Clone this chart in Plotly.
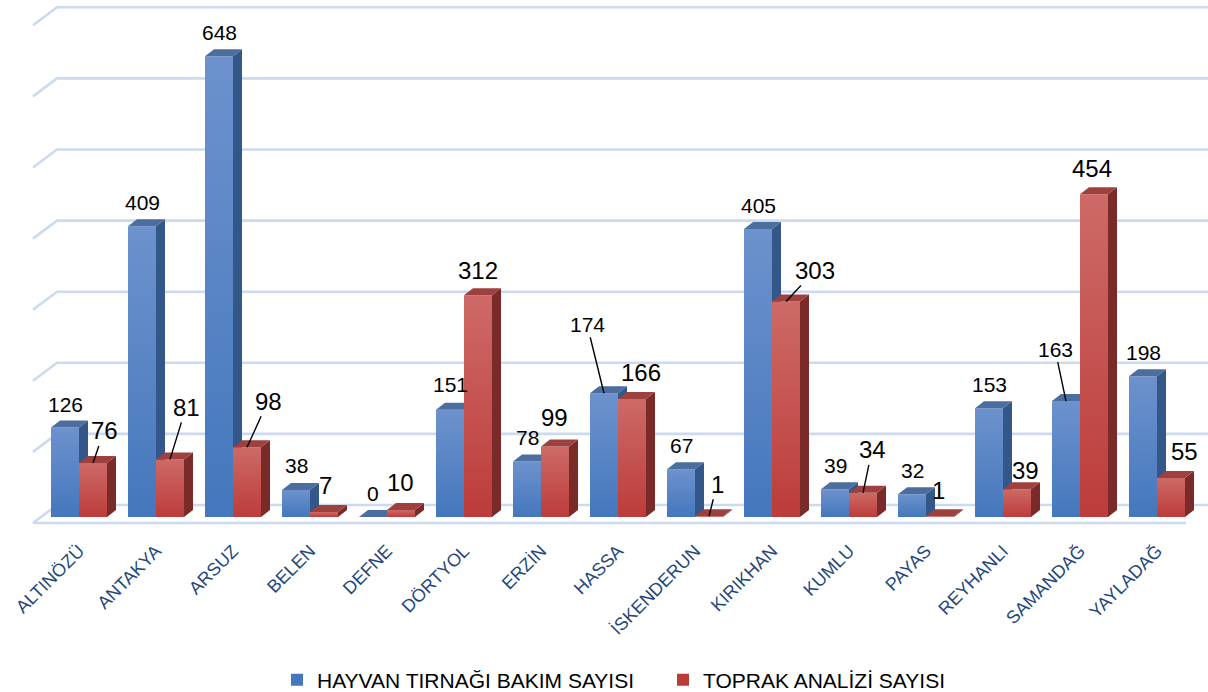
import plotly.graph_objects as go

# --- data -------------------------------------------------------------
districts = ["ALTINÖZÜ", "ANTAKYA", "ARSUZ", "BELEN", "DEFNE", "DÖRTYOL", "ERZİN",
             "HASSA", "İSKENDERUN", "KIRIKHAN", "KUMLU", "PAYAS", "REYHANLI",
             "SAMANDAĞ", "YAYLADAĞ"]
hoof_care = [126, 409, 648, 38, 0, 151, 78, 174, 67, 405, 39, 32, 153, 163, 198]
soil_analysis = [76, 81, 98, 7, 10, 312, 99, 166, 1, 303, 34, 1, 39, 454, 55]
grid_values = [0, 100, 200, 300, 400, 500, 600, 700]
series_names = ["HAYVAN TIRNAĞI BAKIM SAYISI", "TOPRAK ANALİZİ SAYISI"]

# --- geometry (pixel based, converted to axis units) -----------------
W, H = 1208, 692
PX_CAT = 77.0          # pixels per category
PX_VAL = 0.711         # pixels per value unit
X0_PX = 79.0           # pixel position of the first category centre
BASE_PX = 517.0        # pixel row of value 0 on the bar fronts
MARGIN_B = 166

def ux(px):
    return px / PX_CAT

def uy(px):
    return px / PX_VAL

BAR_W = ux(28)
DX, DY = ux(9), uy(7)                 # bar depth projection
WALL_LEFT = ux(33 - X0_PX)            # front-left corner of the side wall
WALL_BACK = ux(57 - X0_PX)            # back-left corner
WALL_FRONT_DY = uy(-6)                # wall front edge relative to bar base
WALL_BACK_DY = uy(12)                 # back wall relative to bar base
FLOOR_RIGHT = ux(1186 - X0_PX)

x_min = ux(-X0_PX)
x_max = ux(W - X0_PX)
y_min = -uy(H - MARGIN_B - BASE_PX)
y_max = uy(BASE_PX)

styles = {
    "blue": dict(front_top="#6D92CD", front_bot="#4477BD", side="#34578A", top="#4C6E9F"),
    "red": dict(front_top="#CD6A67", front_bot="#BC3C3A", side="#7A2B29", top="#9E403D"),
}

fig = go.Figure()

# --- wall / floor gridlines ------------------------------------------
gx, gy = [], []
for v in grid_values:
    gx += [WALL_LEFT, WALL_BACK, x_max + 1, None]
    gy += [v + WALL_FRONT_DY, v + WALL_BACK_DY, v + WALL_BACK_DY, None]
gx += [WALL_LEFT, FLOOR_RIGHT, None]
gy += [WALL_FRONT_DY, WALL_FRONT_DY, None]
fig.add_trace(go.Scatter(x=gx, y=gy, mode="lines", line=dict(color="#CCDAEF", width=2.6),
                         hoverinfo="skip", showlegend=False))


def add_bars(values, offset, st):
    sx, sy, tx, ty = [], [], [], []
    for i, v in enumerate(values):
        xl = i + offset
        xr = xl + BAR_W
        fig.add_trace(go.Scatter(
            x=[xl, xr, xr, xl, xl], y=[0, 0, v, v, 0], fill="toself", mode="none",
            fillgradient=dict(type="vertical",
                              colorscale=[[0, st["front_bot"]], [1, st["front_top"]]]),
            hoverinfo="skip", showlegend=False))
        sx += [xr, xr + DX, xr + DX, xr, xr, None]
        sy += [0, DY, v + DY, v, 0, None]
        tx += [xl, xr, xr + DX, xl + DX, xl, None]
        ty += [v, v, v + DY, v + DY, v, None]
    fig.add_trace(go.Scatter(x=sx, y=sy, fill="toself", mode="none", fillcolor=st["side"],
                             hoverinfo="skip", showlegend=False))
    fig.add_trace(go.Scatter(x=tx, y=ty, fill="toself", mode="none", fillcolor=st["top"],
                             hoverinfo="skip", showlegend=False))


add_bars(hoof_care, -BAR_W, styles["blue"])
add_bars(soil_analysis, 0.0, styles["red"])

# legend entries
for name, st in zip(series_names, (styles["blue"], styles["red"])):
    fig.add_trace(go.Scatter(x=[None], y=[None], mode="markers", name=name,
                             marker=dict(symbol="square", size=12, color=st["front_bot"])))

# --- value labels ------------------------------------------------------
# per-label placement: (dx px, dy px above bar front top) or leader offsets
blue_shift = {0: (0, 23), 5: (0, 25)}
red_shift = {3: (1, 27), 4: (-1, 27), 5: (0, 25), 6: (-1, 29), 7: (9, 26),
             11: (-2, 26), 12: (8, 19), 13: (-2, 26), 14: (13, 26)}
blue_leader = {7: (-17, -69), 13: (-11, -52)}
red_leader = {0: (11, -32), 1: (16, -52), 2: (21, -46), 8: (8, -32),
              9: (29, -31), 10: (9, -43)}

label_font = "Liberation Sans"


def add_labels(values, centre_off, shifts, leaders, default, size):
    for i, v in enumerate(values):
        xc = i + centre_off
        if i in leaders:
            ax, ay = leaders[i]
            fig.add_annotation(x=xc, y=v, text=str(v), showarrow=True, arrowhead=0,
                               arrowwidth=1.4, arrowcolor="#000000", ax=ax, ay=ay,
                               font=dict(family=label_font, size=size, color="#000000"))
        else:
            dx, dy = shifts.get(i, default)
            fig.add_annotation(x=xc, y=v, text=str(v), showarrow=False,
                               xshift=dx, yshift=dy,
                               font=dict(family=label_font, size=size, color="#000000"))


add_labels(hoof_care, -BAR_W / 2, blue_shift, blue_leader, (0, 24), 21)
add_labels(soil_analysis, BAR_W / 2, red_shift, red_leader, (0, 26), 24)

fig.update_layout(
    width=W, height=H,
    margin=dict(l=0, r=0, t=0, b=MARGIN_B, pad=0, autoexpand=False),
    paper_bgcolor="white", plot_bgcolor="white",
    showlegend=True,
    legend=dict(orientation="h", x=277 / W, xanchor="left",
                y=-(680 - (H - MARGIN_B)) / (H - MARGIN_B), yanchor="middle",
                font=dict(family=label_font, size=21, color="#000000"),
                entrywidth=341, entrywidthmode="pixels", itemwidth=30,
                bgcolor="rgba(0,0,0,0)"),
    xaxis=dict(range=[x_min, x_max], tickvals=list(range(len(districts))), ticktext=districts,
               tickangle=-45, showgrid=False, zeroline=False, showline=False, ticks="",
               ticklabelstandoff=10, automargin=False,
               tickfont=dict(family=label_font, size=18, color="#1F497D")),
    yaxis=dict(range=[y_min, y_max], showgrid=False, zeroline=False, showline=False,
               showticklabels=False, ticks="", automargin=False),
)

fig.write_html("out.html")
